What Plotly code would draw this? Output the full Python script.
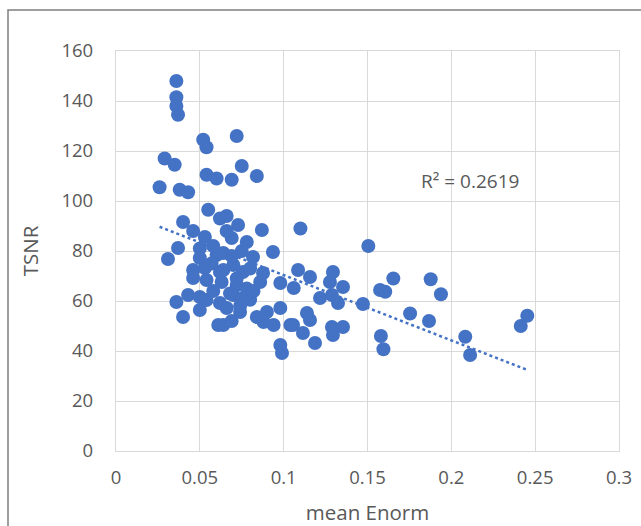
import numpy as np
import plotly.graph_objects as go

mean_enorm = [
    0.036, 0.036, 0.036, 0.037, 0.052, 0.054, 0.072, 0.029, 0.035, 0.075,
    0.054, 0.060, 0.069, 0.084, 0.026, 0.038, 0.043, 0.055, 0.062, 0.066,
    0.040, 0.046, 0.053, 0.0728, 0.087, 0.069, 0.078, 0.0936, 0.110, 0.037,
    0.050, 0.060, 0.031, 0.050, 0.064, 0.0817, 0.070, 0.0757, 0.0877, 0.064,
    0.046, 0.053, 0.062, 0.046, 0.054, 0.063, 0.072, 0.076, 0.066, 0.064,
    0.086, 0.098, 0.106, 0.084, 0.090, 0.094, 0.098, 0.104, 0.098, 0.099,
    0.088, 0.074, 0.070, 0.036, 0.043, 0.050, 0.054, 0.040, 0.050, 0.062,
    0.061, 0.069, 0.080, 0.1086, 0.1157, 0.1294, 0.1276, 0.1354, 0.1217, 0.1288,
    0.1324, 0.1473, 0.1139, 0.1157, 0.1056, 0.1115, 0.1288, 0.1354, 0.1294, 0.1187,
    0.1505, 0.1654, 0.1575, 0.1606, 0.1754, 0.1877, 0.1938, 0.1867, 0.158, 0.1595,
    0.2083, 0.2112, 0.2414, 0.2453, 0.075, 0.072, 0.078, 0.068, 0.058, 0.080,
    0.069, 0.057, 0.074, 0.066, 0.058, 0.082,
]
tsnr = [
    148, 141.5, 138, 134.5, 124.5, 121.5, 126, 117, 114.5, 114,
    110.5, 109, 108.5, 110, 105.5, 104.5, 103.5, 96.5, 93, 94,
    91.6, 88, 85.6, 90.4, 88.4, 85.2, 83.6, 79.6, 89, 81.2,
    81, 78.4, 76.8, 77.2, 79.2, 77.6, 74.4, 71.6, 71.2, 72.4,
    72.4, 73.2, 71.6, 69.2, 68.4, 67.6, 66.4, 61.2, 57.2, 50.4,
    67.6, 67.2, 65.2, 53.6, 55.6, 50.4, 57.2, 50.4, 42.4, 39.2,
    51.6, 55.6, 62.4, 59.6, 62.4, 61.6, 60.4, 53.6, 56.4, 59.2,
    50.4, 52, 60.5, 72.4, 69.6, 71.6, 67.6, 65.6, 61.2, 62.4,
    59.2, 58.8, 55.2, 52.4, 50.4, 47.2, 49.6, 49.6, 46.4, 43.2,
    82, 69, 64.4, 63.7, 55, 68.7, 62.7, 52, 46, 40.7,
    45.7, 38.4, 50, 54.1, 80, 69, 65, 63, 64, 73,
    78, 75, 58, 88, 82, 64,
]

x_ticks = [0, 0.05, 0.1, 0.15, 0.2, 0.25, 0.3]
x_tick_text = ["0", "0.05", "0.1", "0.15", "0.2", "0.25", "0.3"]
y_ticks = [0, 20, 40, 60, 80, 100, 120, 140, 160]
r2_text = "R² = 0.2619"

xs = np.array(mean_enorm)
ys = np.array(tsnr)
slope, intercept = np.polyfit(xs, ys, 1)
tx = np.array([xs.min(), xs.max()])
ty = slope * tx + intercept

blue = "#4472C4"
grey_txt = "#595959"
grid = "#d9d9d9"
font = "Open Sans"

fig = go.Figure()
fig.add_trace(go.Scatter(
    x=mean_enorm, y=tsnr, mode="markers",
    marker=dict(color=blue, size=14, line=dict(width=0)),
    showlegend=False, hoverinfo="skip",
))
fig.add_trace(go.Scatter(
    x=tx, y=ty, mode="lines",
    line=dict(color=blue, width=2.5, dash="dot"),
    showlegend=False, hoverinfo="skip",
))

fig.add_annotation(
    x=0.211, y=108, xref="x", yref="y", text=r2_text, showarrow=False,
    font=dict(family=font, size=19, color=grey_txt),
)

# chart frame
fig.add_shape(type="rect", xref="paper", yref="paper",
              x0=(8 - 116) / 503, x1=1.2, y0=-0.3, y1=1 + (51 - 10) / 400,
              line=dict(color="#7f7f7f", width=1.5), fillcolor="rgba(0,0,0,0)",
              layer="below")

fig.update_layout(
    width=641, height=526,
    margin=dict(l=116, r=22, t=51, b=75, autoexpand=False),
    paper_bgcolor="white", plot_bgcolor="white",
    font=dict(family=font, color=grey_txt),
)
fig.update_xaxes(
    range=[0, 0.3], tickvals=x_ticks, ticktext=x_tick_text, automargin=False,
    showgrid=True, gridcolor=grid, gridwidth=1.3,
    showline=True, mirror=True, linecolor=grid, linewidth=1.3,
    zeroline=False, ticks="outside", ticklen=10, tickcolor="rgba(0,0,0,0)",
    tickfont=dict(family=font, size=18.5, color=grey_txt),
    title=dict(text="mean Enorm", font=dict(family=font, size=20.5, color=grey_txt), standoff=17),
)
fig.update_yaxes(
    range=[0, 160], tickvals=y_ticks, automargin=False,
    showgrid=True, gridcolor=grid, gridwidth=1.3,
    showline=True, mirror=True, linecolor=grid, linewidth=1.3,
    zeroline=False, ticks="outside", ticklen=18, tickcolor="rgba(0,0,0,0)",
    tickfont=dict(family=font, size=18.5, color=grey_txt),
    title=dict(text="TSNR", font=dict(family=font, size=20.5, color=grey_txt), standoff=17),
)

fig.write_html("out.html")
